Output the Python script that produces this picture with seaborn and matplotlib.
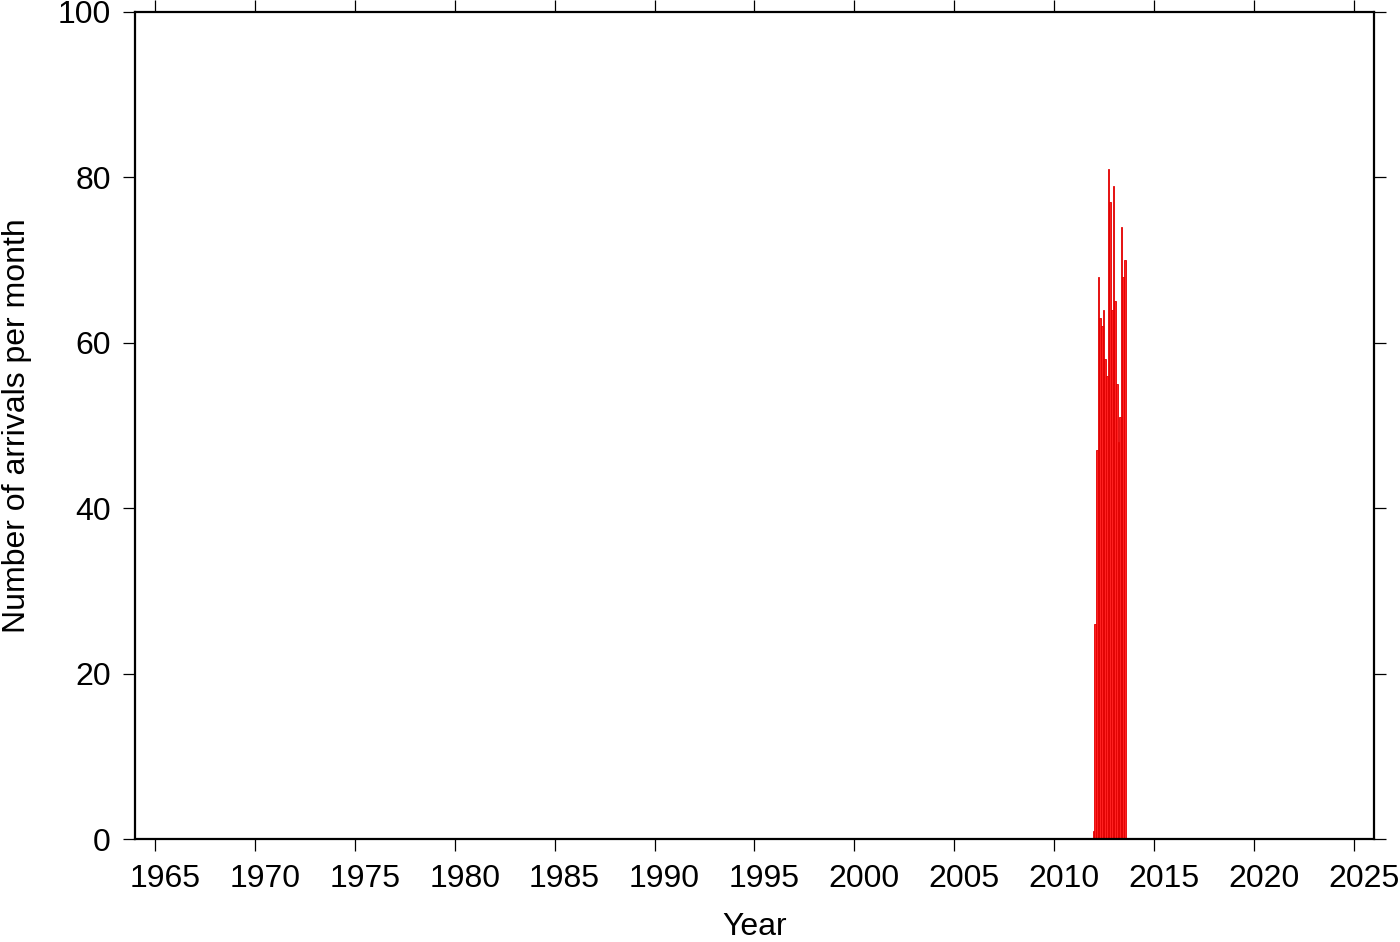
import numpy as np
import pandas as pd
import seaborn as sns
from matplotlib import pyplot as plt

# monthly arrival counts
months = ["2011-12", "2012-01", "2012-02", "2012-03", "2012-04", "2012-05",
          "2012-06", "2012-07", "2012-08", "2012-09", "2012-10", "2012-11",
          "2012-12", "2013-01", "2013-02", "2013-03", "2013-04", "2013-05",
          "2013-06", "2013-07"]
counts = [1, 26, 47, 68, 63, 62, 64, 58, 56, 81, 77, 64, 79, 65, 55, 48, 51, 74, 68, 70]
year_ticks = list(range(1965, 2030, 5))
count_ticks = [0, 20, 40, 60, 80, 100]

dt = pd.to_datetime(months)
# bin centre of each month in decimal years
df = pd.DataFrame({"year": dt.year + (dt.month - 0.5) / 12.0, "n": counts})

sns.set_style("ticks")
plt.rcParams['font.family'] = ['Liberation Sans', 'DejaVu Sans']
plt.rcParams.update({"text.color": "black", "axes.labelcolor": "black",
                     "xtick.color": "black", "ytick.color": "black",
                     "axes.edgecolor": "black"})

fig = plt.figure(figsize=(14, 9.42), dpi=100)
ax = fig.add_axes([0.0964, 0.1093, 0.8850, 0.8780])

start = df["year"].min() - 1 / 24.0
stop = df["year"].max() + 1 / 24.0
sns.histplot(data=df, x="year", weights="n", binwidth=1 / 12.0,
             binrange=(start, stop), ax=ax,
             color="#ff2020", edgecolor="#e00000", linewidth=0.6, alpha=1)

ax.set_xlim(1964, 2026)
ax.set_ylim(0, 100)
# ticks at the year, labels centred half a year later (GMT style)
ax.set_xticks(year_ticks)
ax.set_xticks([y + 0.5 for y in year_ticks], labels=[str(y) for y in year_ticks], minor=True)
ax.set_yticks(count_ticks)
ax.set_xlabel("Year", fontsize=23, labelpad=13)
ax.set_ylabel("Number of arrivals per month", fontsize=23, labelpad=18)
ax.tick_params(which="major", direction="out", length=8.5, width=0.9, labelsize=23,
               top=True, right=True, pad=9)
ax.tick_params(axis="x", which="major", labelbottom=False)
ax.tick_params(axis="x", which="minor", length=0, labelsize=23, pad=18,
               top=False, bottom=True, labelbottom=True)
for s in ax.spines.values():
    s.set_visible(True)
    s.set_linewidth(1.6)

plt.savefig("out.png", dpi=100)
